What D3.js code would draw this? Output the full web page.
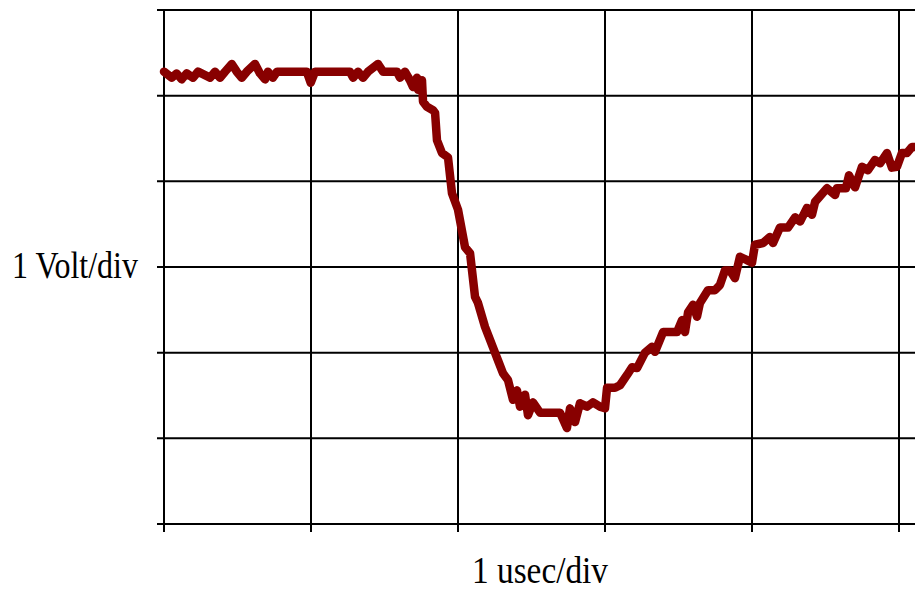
<!DOCTYPE html>
<html>
<head>
<meta charset="utf-8">
<script src="https://cdn.jsdelivr.net/npm/d3@7"></script>
<style>
  html, body { margin: 0; padding: 0; background: #fff; }
  svg { display: block; }
  .lbl { font-family: "Liberation Serif", "DejaVu Serif", serif; font-size: 38px; fill: #000; }
</style>
</head>
<body>
<svg id="scope" width="915" height="594"></svg>
<script>
// Oscilloscope trace: time in divisions (1 usec/div), voltage in divisions (1 V/div)
const timeDiv = [
  0.000, 0.052, 0.086, 0.120, 0.154, 0.197, 0.231, 0.313, 0.347, 0.381,
  0.415, 0.461, 0.495, 0.529, 0.563, 0.619, 0.653, 0.687, 0.707, 0.741,
  0.769, 0.971, 0.998, 1.027, 1.265, 1.286, 1.320, 1.354, 1.388, 1.456,
  1.490, 1.585, 1.605, 1.639, 1.673, 1.694, 1.721, 1.728, 1.755, 1.762,
  1.789, 1.830, 1.844, 1.857, 1.891, 1.932, 1.959, 2.000, 2.048, 2.082,
  2.116, 2.136, 2.184, 2.252, 2.272, 2.306, 2.340, 2.374, 2.401, 2.422,
  2.456, 2.476, 2.510, 2.558, 2.694, 2.741, 2.762, 2.796, 2.830, 2.878,
  2.918, 2.966, 3.000, 3.014, 3.068, 3.102, 3.150, 3.184, 3.218, 3.272,
  3.320, 3.340, 3.395, 3.490, 3.524, 3.544, 3.565, 3.599, 3.626, 3.646,
  3.701, 3.748, 3.782, 3.816, 3.850, 3.884, 3.918, 3.966, 4.000, 4.020,
  4.075, 4.122, 4.143, 4.190, 4.245, 4.293, 4.327, 4.374, 4.408, 4.429,
  4.510, 4.565, 4.578, 4.639, 4.660, 4.701, 4.748, 4.789, 4.837, 4.871,
  4.918, 4.952, 4.986, 5.020, 5.054, 5.088, 5.109
];
const voltDiv = [
  5.28, 5.21, 5.26, 5.19, 5.26, 5.21, 5.28, 5.21, 5.28, 5.21,
  5.28, 5.37, 5.28, 5.21, 5.28, 5.37, 5.26, 5.19, 5.28, 5.21,
  5.28, 5.28, 5.15, 5.28, 5.28, 5.21, 5.28, 5.21, 5.28, 5.37,
  5.28, 5.28, 5.21, 5.28, 5.18, 5.10, 5.21, 5.07, 5.18, 4.93,
  4.87, 4.83, 4.80, 4.48, 4.33, 4.28, 3.86, 3.67, 3.23, 3.16,
  2.65, 2.58, 2.30, 2.00, 1.91, 1.76, 1.68, 1.45, 1.56, 1.37,
  1.51, 1.27, 1.42, 1.30, 1.30, 1.12, 1.35, 1.19, 1.41, 1.37,
  1.42, 1.37, 1.35, 1.59, 1.59, 1.62, 1.74, 1.83, 1.82, 2.00,
  2.07, 2.01, 2.24, 2.24, 2.38, 2.24, 2.47, 2.56, 2.42, 2.58,
  2.73, 2.73, 2.79, 2.96, 2.96, 2.87, 3.12, 3.08, 3.05, 3.26,
  3.28, 3.35, 3.28, 3.46, 3.46, 3.58, 3.53, 3.69, 3.61, 3.76,
  3.92, 3.84, 3.92, 3.92, 4.07, 3.93, 4.17, 4.13, 4.25, 4.21,
  4.33, 4.16, 4.17, 4.33, 4.33, 4.40, 4.40
];
const xDivisions = [0, 1, 2, 3, 4, 5];
const yDivisions = [0, 1, 2, 3, 4, 5, 6];
const xLabel = "1 usec/div";
const yLabel = "1 Volt/div";

const svg = d3.select("#scope");
const W = 915;
const x = d3.scaleLinear().domain([0, 5]).range([164, 899]);
const y = d3.scaleLinear().domain([0, 6]).range([524, 10]);
const tick = 7;

// graticule
const grid = svg.append("g").attr("stroke", "#000").attr("stroke-width", 2);
grid.selectAll("line.h").data(yDivisions).join("line")
  .attr("class", "h")
  .attr("x1", x(0) - tick).attr("x2", W)
  .attr("y1", d => y(d)).attr("y2", d => y(d));
grid.selectAll("line.v").data(xDivisions).join("line")
  .attr("class", "v")
  .attr("x1", d => x(d)).attr("x2", d => x(d))
  .attr("y1", y(6)).attr("y2", y(0) + tick + 1);

// trace
const pts = timeDiv.map((t, i) => [t, voltDiv[i]]);
const line = d3.line().x(d => x(d[0])).y(d => y(d[1])).curve(d3.curveLinear);
svg.append("path")
  .datum(pts)
  .attr("d", line)
  .attr("fill", "none")
  .attr("stroke", "#880000")
  .attr("stroke-width", 8.5)
  .attr("stroke-linejoin", "round")
  .attr("stroke-linecap", "round");

// axis labels
svg.append("text").attr("class", "lbl")
  .attr("x", 12).attr("y", 278)
  .attr("textLength", 126).attr("lengthAdjust", "spacingAndGlyphs")
  .text(yLabel);
svg.append("text").attr("class", "lbl")
  .attr("x", 472).attr("y", 583)
  .attr("textLength", 136).attr("lengthAdjust", "spacingAndGlyphs")
  .text(xLabel);
</script>
</body>
</html>
